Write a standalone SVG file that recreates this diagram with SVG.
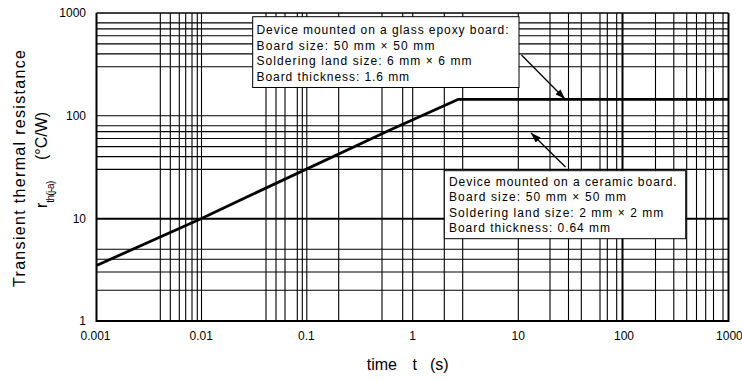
<svg xmlns="http://www.w3.org/2000/svg" width="742" height="381" viewBox="0 0 742 381">
<style>
.g{stroke:#000;stroke-width:1.1;fill:none}
.gt{stroke:#000;stroke-width:2;fill:none}
.frame{stroke:#000;stroke-width:2;fill:none}
.curve{stroke:#000;stroke-width:2.8;fill:none;stroke-linejoin:round}
.box{fill:#fff;stroke:#000;stroke-width:1}
.t{font-family:"Liberation Sans",Arial,sans-serif;font-size:12px;fill:#000}
.tick{font-family:"Liberation Sans",Arial,sans-serif;font-size:12px;fill:#000}
.lab{font-family:"Liberation Sans",Arial,sans-serif;font-size:16px;fill:#000}
.arr{stroke:#000;stroke-width:1.3;fill:none}
</style>
<defs>
<marker id="ah" markerUnits="userSpaceOnUse" markerWidth="10" markerHeight="7" refX="10" refY="3.5" orient="auto">
<path d="M0,0 L10,3.5 L0,7 z" fill="#000"/>
</marker>
</defs>
<rect width="742" height="381" fill="#fff"/>
<g id="grid">
<path class="g" d="M160.3,13V321M170.3,13V321M179.3,13V321M185.7,13V321M192,13V321M197.3,13V321M201.5,13V321M266,13V321M276,13V321M285,13V321M297.3,13V321M302.3,13V321M306.8,13V321M338.7,13V321M382,13V321M402.7,13V321M412.7,13V321M444.3,13V321M462.7,13V321M518.3,13V321M550,13V321M568.5,13V321M581.3,13V321M600,13V321M607.3,13V321M616.7,13V321M655.5,13V321M673.8,13V321M686.7,13V321M696.5,13V321M705.7,13V321M713.5,13V321M723,13V321"/>
<path class="g" d="M96.5,22.9H728.5M96.5,28.9H728.5M96.5,35.8H728.5M96.5,43.9H728.5M96.5,53.9H728.5M96.5,66.7H728.5M96.5,115.7H728.5M96.5,125.7H728.5M96.5,131.6H728.5M96.5,138.5H728.5M96.5,146.6H728.5M96.5,156.6H728.5M96.5,169.4H728.5M96.5,249.3H728.5M96.5,259.3H728.5M96.5,272H728.5M96.5,290.2H728.5"/>
<path class="gt" d="M622.5,13V321M96.5,218.8H728.5"/>
<path class="g" d="M96.5,13H728.5" style="stroke-width:1.4"/>
<path class="frame" d="M96.5,13V321H728.5V13"/>
</g>
<g id="curve">
<polyline class="curve" points="96.5,265.5 201.5,218.5 250,195.5 390,130 458.5,99.3 728.5,99.3"/>
</g>
<g id="box-glass">
<rect class="box" x="252.7" y="16.7" width="266.3" height="70.8"/>
<text class="t" x="256.5" y="34" textLength="252" lengthAdjust="spacing">Device mounted on a glass epoxy board:</text>
<text class="t" x="256.5" y="49.5" textLength="178" lengthAdjust="spacing">Board size: 50 mm × 50 mm</text>
<text class="t" x="256.5" y="65" textLength="215" lengthAdjust="spacing">Soldering land size: 6 mm × 6 mm</text>
<text class="t" x="256.5" y="80.5" textLength="152.6" lengthAdjust="spacing">Board thickness: 1.6 mm</text>
</g>
<g id="box-ceramic">
<rect class="box" x="444.3" y="170.7" width="241.4" height="68"/>
<text class="t" x="449" y="185.5" textLength="227.7" lengthAdjust="spacing">Device mounted on a ceramic board.</text>
<text class="t" x="449" y="201" textLength="177" lengthAdjust="spacing">Board size: 50 mm × 50 mm</text>
<text class="t" x="449" y="216.5" textLength="214.3" lengthAdjust="spacing">Soldering land size: 2 mm × 2 mm</text>
<text class="t" x="449" y="232" textLength="161" lengthAdjust="spacing">Board thickness: 0.64 mm</text>
</g>
<g id="connectors">
<line class="arr" x1="521.5" y1="55" x2="565" y2="99" marker-end="url(#ah)"/>
<line class="arr" x1="565.5" y1="167" x2="531" y2="133" marker-end="url(#ah)"/>
</g>
<g id="axis-labels">
<text class="tick" x="86" y="17" text-anchor="end">1000</text>
<text class="tick" x="86" y="119.5" text-anchor="end">100</text>
<text class="tick" x="86" y="223" text-anchor="end">10</text>
<text class="tick" x="86" y="325" text-anchor="end">1</text>
<text class="tick" x="95.5" y="340" text-anchor="middle">0.001</text>
<text class="tick" x="201.3" y="340" text-anchor="middle">0.01</text>
<text class="tick" x="306.3" y="340" text-anchor="middle">0.1</text>
<text class="tick" x="412.5" y="340" text-anchor="middle">1</text>
<text class="tick" x="518.3" y="340" text-anchor="middle">10</text>
<text class="tick" x="624" y="340" text-anchor="middle">100</text>
<text class="tick" x="729.4" y="340" text-anchor="middle">1000</text>
<text class="lab" x="366.7" y="369.5">time</text>
<text class="lab" x="412.5" y="369.5">t</text>
<text class="lab" x="430" y="369.5">(s)</text>
<text class="lab" transform="rotate(-90)" x="-287" y="25" textLength="237" lengthAdjust="spacing">Transient thermal resistance</text>
<text class="lab" transform="rotate(-90)" x="-208" y="47">r<tspan font-size="10" y="54" textLength="22" lengthAdjust="spacing">th(j-a)</tspan></text>
<text class="lab" transform="rotate(-90)" x="-160" y="47">(°C/W)</text>
</g>
</svg>
